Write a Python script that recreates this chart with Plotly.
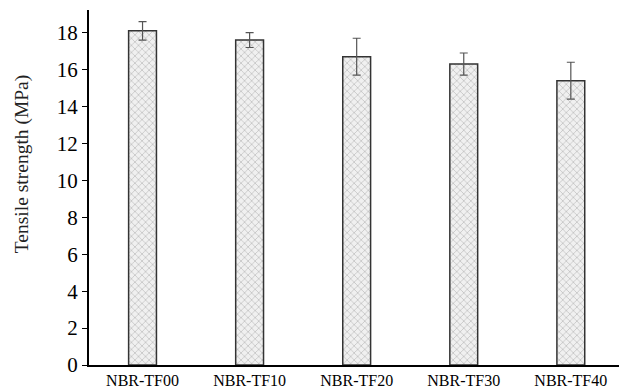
import plotly.graph_objects as go

categories = ["NBR-TF00", "NBR-TF10", "NBR-TF20", "NBR-TF30", "NBR-TF40"]
tensile = [18.1, 17.6, 16.7, 16.3, 15.4]
errors = [0.5, 0.4, 1.0, 0.6, 1.0]
y_ticks = [0, 2, 4, 6, 8, 10, 12, 14, 16, 18]
y_title = "Tensile strength (MPa)"

fig = go.Figure()
fig.add_trace(go.Bar(
    x=categories, y=tensile, width=0.26,
    marker=dict(
        color="white",
        line=dict(color="#333333", width=1.5),
        pattern=dict(shape="x", fgcolor="#9a9a9a", bgcolor="#f0f0f0", size=5, solidity=0.3),
    ),
    error_y=dict(type="data", array=errors, visible=True, color="#555555", thickness=1.2, width=4),
))

fig.update_layout(
    width=619, height=392,
    margin=dict(l=89, r=0, t=10, b=27),
    paper_bgcolor="white", plot_bgcolor="white",
    showlegend=False,
    font=dict(family="Liberation Serif", color="black"),
    xaxis=dict(
        range=[-0.5, 4.45], showline=True, linecolor="black", linewidth=2,
        ticks="", tickfont=dict(size=16, family="Liberation Serif"), showgrid=False,
    ),
    yaxis=dict(
        range=[0, 19.23], tickvals=y_ticks, showline=True, linecolor="black", linewidth=2,
        ticks="outside", ticklen=5, tickwidth=1, tickcolor="black",
        tickfont=dict(size=21, family="Liberation Serif"), showgrid=False, zeroline=False,
    ),
    annotations=[dict(
        text=y_title, textangle=-90, xref="paper", yref="paper",
        x=-0.125, y=0.565, xanchor="center", yanchor="middle", showarrow=False,
        font=dict(size=19.5, family="Liberation Serif", color="#222222"),
    )],
)

fig.write_html("out.html")
